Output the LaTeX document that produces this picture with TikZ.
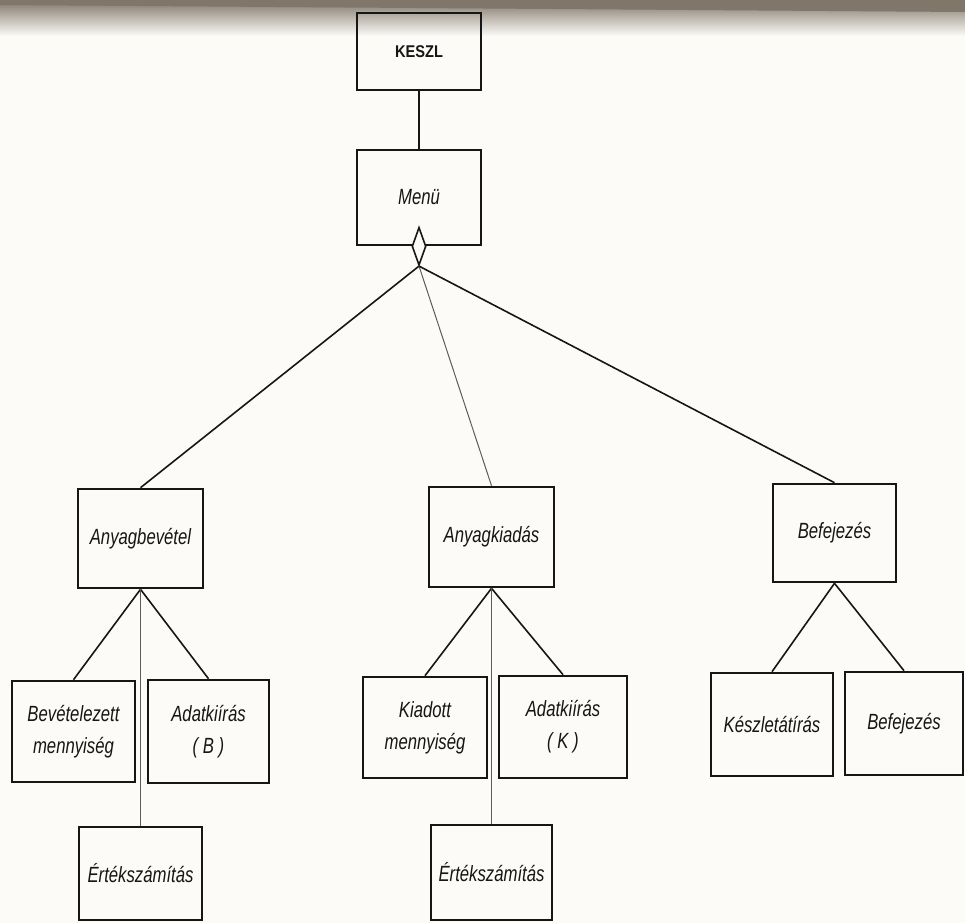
\documentclass[tikz,border=0pt]{standalone}
\usepackage{fontspec}
\newfontfamily\lblfont[FakeStretch=0.76]{Liberation Sans}
\newfontfamily\capfont[FakeStretch=0.86]{Liberation Sans}
\usetikzlibrary{shapes.geometric}
\definecolor{paper}{RGB}{252,251,247}
\definecolor{band}{RGB}{128,118,106}
\definecolor{ink}{RGB}{22,22,22}
\tikzset{
  box/.style={draw=ink, line width=2.6pt, rectangle, inner sep=0pt,
    align=center, text=ink, font=\lblfont\itshape\fontsize{22}{32}\selectfont},
  link/.style={draw=ink, line width=1.6pt},
  thinlink/.style={draw=ink!70, line width=1pt},
}
\begin{document}
\begin{tikzpicture}[x=1pt,y=-1pt]
  % page and the darkened top edge
  \fill[paper] (0,0) rectangle (965,923);
  \useasboundingbox (0,0) rectangle (965,923);
  \shade[top color=band, bottom color=paper] (0,0) rectangle (965,36);
  \fill[band] (0,0) -- (965,0) -- (965,12) -- (0,5) -- cycle;

  % top levels
  \node[box, minimum width=124, minimum height=77,
        font=\capfont\bfseries\fontsize{17}{19}\selectfont] (keszl) at (419,51.5) {KESZL};
  \node[box, minimum width=124, minimum height=95] (menu) at (419,197.5) {Menü};
  \node[draw=ink, fill=paper, line width=1.6pt, diamond, inner sep=0pt,
        minimum width=14, minimum height=38] (sel) at (menu.south) {};

  % second level
  \node[box, minimum width=125, minimum height=99] (anyb) at (140.5,538.5) {Anyagbevétel};
  \node[box, minimum width=125, minimum height=100] (anyk) at (491.5,537) {Anyagkiadás};
  \node[box, minimum width=123, minimum height=98] (bef) at (834.5,533) {Befejezés};

  % leaves under Anyagbevétel
  \node[box, minimum width=123, minimum height=101] (bevm) at (73.5,731.5) {Bevételezett\\mennyiség};
  \node[box, minimum width=121, minimum height=103] (adb) at (208.5,731.5) {Adatkiírás\\( B )};
  \node[box, minimum width=123, minimum height=93] (ert1) at (140.5,873.5) {Értékszámítás};

  % leaves under Anyagkiadás
  \node[box, minimum width=124, minimum height=101] (kim) at (425,727.5) {Kiadott\\mennyiség};
  \node[box, minimum width=128, minimum height=102] (adk) at (563,727) {Adatkiírás\\( K )};
  \node[box, minimum width=121, minimum height=95] (ert2) at (491.5,872.5) {Értékszámítás};

  % leaves under Befejezés
  \node[box, minimum width=122, minimum height=103] (kesz) at (772,724.5) {Készletátírás};
  \node[box, minimum width=118, minimum height=103] (bef2) at (904,723.5) {Befejezés};

  % connectors
  \draw[link] (keszl.south) -- (menu.north);
  \draw[link] (sel.south) -- (anyb.north);
  \draw[thinlink] (sel.south) -- (anyk.north);
  \draw[link] (sel.south) -- (bef.north);

  \draw[link] (anyb.south) -- (bevm.north);
  \draw[link] (anyb.south) -- (adb.north);
  \draw[thinlink] (anyb.south) -- (ert1.north);

  \draw[link] (anyk.south) -- (kim.north);
  \draw[link] (anyk.south) -- (adk.north);
  \draw[thinlink] (anyk.south) -- (ert2.north);

  \draw[link] (bef.south) -- (kesz.north);
  \draw[link] (bef.south) -- (bef2.north);
\end{tikzpicture}
\end{document}
